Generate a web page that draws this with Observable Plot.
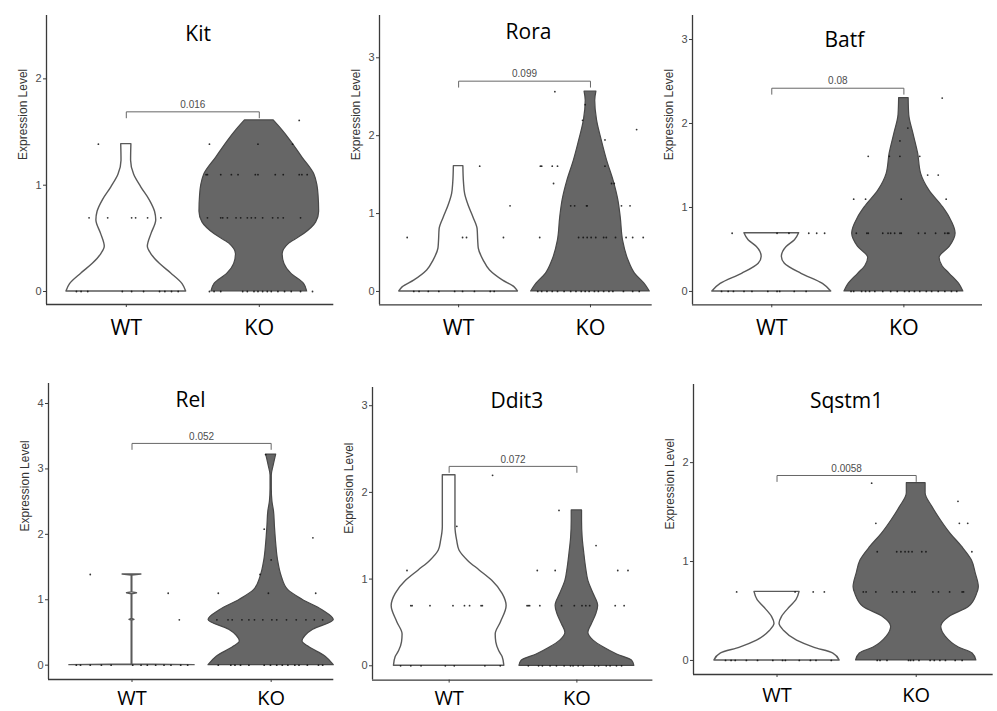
<!DOCTYPE html>
<html><head><meta charset="utf-8">
<script src="https://cdn.jsdelivr.net/npm/d3@7"></script>
<script src="https://cdn.jsdelivr.net/npm/@observablehq/plot@0.6"></script>
<style>
body{margin:0;background:#fff;}
#wrap{position:relative;width:997px;height:711px;overflow:hidden;background:#fff;}
#wrap svg{position:absolute;}
</style></head><body><div id="wrap"></div>
<script>
// ---------- data ----------
const genes = ["Kit", "Rora", "Batf", "Rel", "Ddit3", "Sqstm1"];
const groups = ["WT", "KO"];
const pValues = ["0.016", "0.099", "0.08", "0.052", "0.072", "0.0058"];
const bracketLevels = [1.69, 2.7, 2.42, 3.39, 2.3, 1.87];
const yTickValues = [[0,1,2], [0,1,2,3], [0,1,2,3], [0,1,2,3,4], [0,1,2,3], [0,1,2]];

// violin outlines: [expression level, relative density (width)]
const kitWT = [[0,1.0],[0.07,0.94],[0.17,0.75],[0.26,0.56],[0.35,0.42],[0.42,0.36],[0.54,0.42],[0.67,0.5],[0.75,0.48],[0.86,0.39],[0.98,0.25],[1.1,0.13],[1.23,0.08],[1.386,0.085]];
const kitKO = [[0,0.8],[0.07,0.75],[0.17,0.53],[0.26,0.42],[0.35,0.39],[0.45,0.5],[0.54,0.75],[0.65,0.95],[0.75,1.0],[0.9,0.99],[1.0,0.97],[1.1,0.92],[1.26,0.72],[1.42,0.52],[1.52,0.38],[1.609,0.24]];
const roraWT = [[0,1.0],[0.056,0.94],[0.14,0.75],[0.27,0.53],[0.4,0.42],[0.55,0.34],[0.65,0.33],[0.8,0.32],[0.95,0.25],[1.1,0.17],[1.25,0.11],[1.4,0.09],[1.609,0.08]];
const roraKO = [[0,1.0],[0.1,0.91],[0.23,0.75],[0.4,0.64],[0.65,0.55],[0.95,0.51],[1.17,0.47],[1.42,0.39],[1.68,0.28],[1.94,0.19],[2.2,0.11],[2.45,0.08],[2.565,0.1]];
const batfWT = [[0,1.0],[0.09,0.86],[0.21,0.5],[0.33,0.22],[0.41,0.17],[0.53,0.25],[0.61,0.39],[0.693,0.46]];
const batfKO = [[0,1.0],[0.09,0.93],[0.21,0.77],[0.3,0.65],[0.4,0.6],[0.53,0.77],[0.69,0.87],[0.88,0.77],[1.0,0.66],[1.2,0.43],[1.4,0.29],[1.64,0.24],[1.88,0.16],[2.1,0.09],[2.303,0.08]];
const relWT = [[0,1.0],[0.01,0.005],[0.68,0.005],[0.693,0.04],[0.706,0.005],[1.085,0.005],[1.099,0.08],[1.113,0.005],[1.37,0.005],[1.386,0.15]];
const relKO = [[0,1.0],[0.13,0.87],[0.28,0.6],[0.36,0.5],[0.45,0.55],[0.54,0.67],[0.69,1.0],[0.84,0.82],[1.0,0.5],[1.15,0.27],[1.35,0.17],[1.6,0.11],[1.86,0.08],[2.12,0.06],[2.35,0.045],[2.5,0.02],[2.7,0.01],[2.9,0.01],[3.05,0.04],[3.219,0.08]];
const ddit3WT = [[0,0.96],[0.1,0.93],[0.17,0.87],[0.27,0.82],[0.36,0.81],[0.5,0.9],[0.69,1.0],[0.83,0.93],[0.98,0.75],[1.1,0.53],[1.21,0.33],[1.33,0.18],[1.44,0.14],[1.6,0.11],[2.197,0.11]];
const ddit3KO = [[0,1.0],[0.06,0.96],[0.13,0.7],[0.21,0.47],[0.29,0.29],[0.38,0.2],[0.48,0.26],[0.6,0.34],[0.69,0.37],[0.83,0.29],[0.98,0.2],[1.13,0.16],[1.29,0.13],[1.48,0.1],[1.67,0.09],[1.792,0.09]];
const sqstm1WT = [[0,1.0],[0.07,0.9],[0.13,0.59],[0.2,0.32],[0.3,0.11],[0.37,0.04],[0.44,0.08],[0.54,0.21],[0.61,0.31],[0.693,0.36]];
const sqstm1KO = [[0,0.96],[0.07,0.9],[0.13,0.68],[0.24,0.47],[0.34,0.4],[0.44,0.53],[0.54,0.84],[0.67,0.97],[0.74,1.0],[0.88,0.95],[1.01,0.89],[1.15,0.73],[1.28,0.55],[1.42,0.39],[1.55,0.26],[1.69,0.15],[1.792,0.15]];

// cells: [expression level, [jitter offsets within group]]
const kitWTPts = [[1.386,[-0.21]],[0.693,[-0.28,-0.14,0.04,0.07,0.16,0.26]],[0,[-0.375,-0.34,-0.29,-0.03,0.04,0.13,0.25,0.29,0.34,0.39]]];
const kitKOPts = [[1.609,[0.3]],[1.386,[-0.375,-0.01,0.25]],[1.099,[-0.4,-0.39,-0.29,-0.21,-0.16,-0.03,-0.01,0.12,0.18,0.3,0.32,0.36]],[0.693,[-0.39,-0.29,-0.275,-0.24,-0.175,-0.14,-0.09,-0.06,-0.03,0.025,0.1,0.14,0.18,0.31]],[0,[-0.375,-0.34,-0.29,-0.125,-0.09,-0.04,-0.01,0.025,0.06,0.09,0.14,0.19,0.24,0.31,0.4]]];
const roraWTPts = [[1.609,[0.16]],[1.099,[0.39]],[0.693,[-0.39,0.03,0.06,0.34]],[0,[-0.34,-0.3,-0.23,-0.15,-0.03,0.03,0.12,0.24,0.27]]];
const roraKOPts = [[2.565,[-0.27]],[2.398,[-0.04]],[2.197,[-0.06]],[2.079,[0.35]],[1.946,[0.11]],[1.609,[-0.38,-0.37,-0.29,-0.25,0.11]],[1.386,[-0.28,0.16,0.18]],[1.099,[-0.15,-0.12,-0.03,-0.025,0.235,0.3]],[0.693,[-0.385,-0.09,-0.055,-0.025,0.005,0.04,0.1,0.12,0.19,0.27,0.32,0.4]],[0,[-0.4,-0.37,-0.33,-0.29,-0.25,-0.2,-0.15,-0.11,-0.07,-0.04,-0.01,0.03,0.06,0.1,0.14,0.17,0.25,0.32,0.37]]];
const batfWTPts = [[0.693,[-0.3,0.04,0.13,0.28,0.34,0.4]],[0,[-0.38,-0.33,-0.29,-0.21,-0.15,-0.03,0.04,0.06,0.17,0.26]]];
const batfKOPts = [[2.303,[0.29]],[1.946,[0.03]],[1.792,[-0.03]],[1.609,[-0.27,-0.11,-0.03,0.12]],[1.386,[0.18,0.26]],[1.099,[-0.38,-0.29,-0.02,0.32]],[0.693,[-0.36,-0.28,-0.27,-0.16,-0.12,-0.1,-0.07,-0.03,-0.02,0.11,0.16,0.24,0.31,0.33,0.34]],[0,[-0.4,-0.38,-0.32,-0.29,-0.26,-0.22,-0.16,-0.1,-0.05,0.005,0.04,0.08,0.12,0.17,0.21,0.26,0.31,0.36,0.4]]];
const relWTPts = [[1.386,[-0.3]],[1.099,[0.26]],[0.693,[0.34]],[0,[-0.4,-0.37,-0.3,-0.22,-0.15,0.005,0.065,0.11,0.17,0.23,0.28,0.35,0.4]]];
const relKOPts = [[3.219,[-0.04]],[2.079,[-0.05]],[1.946,[0.3]],[1.609,[0.0]],[1.386,[-0.08]],[1.099,[-0.38,-0.02,0.32]],[0.693,[-0.39,-0.31,-0.28,-0.21,-0.16,-0.12,-0.06,0.005,0.04,0.11,0.18,0.25,0.31,0.37]],[0,[-0.38,-0.29,-0.26,-0.22,-0.16,-0.05,-0.005,0.04,0.08,0.12,0.17,0.2,0.26,0.34,0.37]]];
const ddit3WTPts = [[2.197,[0.34]],[1.609,[0.06]],[1.099,[-0.33]],[0.693,[-0.3,-0.29,-0.15,0.03,0.12,0.16,0.25,0.26]],[0,[-0.38,-0.3,-0.22,-0.03,0.04,0.28,0.4]]];
const ddit3KOPts = [[1.792,[-0.14]],[1.386,[0.15]],[1.099,[-0.31,-0.17,0.32,0.4]],[0.693,[-0.39,-0.38,-0.37,-0.29,-0.12,-0.02,0.04,0.07,0.1,0.3,0.37]],[0,[-0.38,-0.3,-0.27,-0.21,-0.16,-0.1,-0.05,-0.03,0.01,0.05,0.14,0.17,0.23,0.26,0.31,0.35]]];
const sqstm1WTPts = [[0.693,[-0.29,0.13,0.26,0.34]],[0,[-0.37,-0.33,-0.3,-0.22,-0.14,-0.03,0.04,0.06,0.16,0.24,0.28,0.39]]];
const sqstm1KOPts = [[1.792,[-0.32]],[1.609,[0.3]],[1.386,[-0.29,0.31,0.37]],[1.099,[-0.28,-0.14,-0.11,-0.08,-0.055,-0.03,0.04,0.07,0.4]],[0.693,[-0.38,-0.36,-0.29,-0.17,-0.14,-0.09,-0.03,-0.01,0.12,0.16,0.24,0.33,0.34]],[0,[-0.28,-0.26,-0.21,-0.055,-0.04,-0.02,0.02,0.1,0.13,0.17,0.21,0.28,0.33]]];

const wtProfiles = [kitWT, roraWT, batfWT, relWT, ddit3WT, sqstm1WT];
const koProfiles = [kitKO, roraKO, batfKO, relKO, ddit3KO, sqstm1KO];
const wtPoints = [kitWTPts, roraWTPts, batfWTPts, relWTPts, ddit3WTPts, sqstm1WTPts];
const koPoints = [kitKOPts, roraKOPts, batfKOPts, relKOPts, ddit3KOPts, sqstm1KOPts];

// ---------- layout (pixels / styling) ----------
const layout = [
  {L:45.7, T:15,    R:333,   B:304,   y:[-0.122,2.596], xMax:2.56,  titleX:1.54, titleDy:11, pad:12, fs:21.5},
  {L:379,  T:15,    R:651.7, B:304.3, y:[-0.171,3.543], xMax:2.468, titleX:1.53, titleDy:9,  pad:12, fs:21.5},
  {L:691.7,T:15,    R:981.7, B:304.3, y:[-0.159,3.286], xMax:2.595, titleX:1.55, titleDy:17, pad:12, fs:21.5},
  {L:47.7, T:383.3, R:333,   B:679.3, y:[-0.219,4.306], xMax:2.45,  titleX:1.42, titleDy:9,  pad:8,  fs:20},
  {L:372.3,T:386.7, R:652.7, B:679.3, y:[-0.165,3.21],  xMax:2.595, titleX:1.53, titleDy:6,  pad:8,  fs:20},
  {L:693.3,T:384,   R:993,   B:674,   y:[-0.142,2.79],  xMax:2.553, titleX:1.5,  titleDy:9,  pad:10, fs:20}
];
const HALF = 0.45;
const KO_FILL = "#666666";
const AXIS = "#3a3a3a";
const SANS = "'Liberation Sans', Arial, Helvetica, sans-serif";
const TITLE_FONT = "'Open Sans', 'Noto Sans', sans-serif";

const wrap = document.getElementById("wrap");

function flattenPts(list, center) {
  const out = [];
  for (const [lvl, offs] of list) for (const o of offs) out.push({x: center + o, y: lvl});
  return out;
}

genes.forEach((gene, i) => {
  const lay = layout[i];
  const ml = 46, mr = 3, mt = 1, mb = 48;
  const fw = lay.R - lay.L, fh = lay.B - lay.T;
  const pxPerUnit = fh / (lay.y[1] - lay.y[0]);
  const tip = 6 / pxPerUnit;
  const lvl = bracketLevels[i];
  const curveWT = gene === "Rel" ? "linear" : "monotone-y";
  const pts = [...flattenPts(wtPoints[i], 1), ...flattenPts(koPoints[i], 2)];
  const bracket = [[1, lvl - tip], [1, lvl], [2, lvl], [2, lvl - tip]];

  const svg = Plot.plot({
    width: ml + fw + mr,
    height: mt + fh + mb,
    marginLeft: ml, marginRight: mr, marginTop: mt, marginBottom: mb,
    x: {domain: [0.4, lay.xMax], axis: null},
    y: {domain: lay.y, axis: null},
    style: {fontFamily: SANS, background: "transparent", overflow: "visible", color: AXIS},
    marks: [
      Plot.areaX(wtProfiles[i], {y: d => d[0], x1: d => 1 - d[1] * HALF, x2: d => 1 + d[1] * HALF,
        fill: "white", stroke: "#5a5a5a", strokeWidth: 1.4, curve: curveWT}),
      Plot.areaX(koProfiles[i], {y: d => d[0], x1: d => 2 - d[1] * HALF, x2: d => 2 + d[1] * HALF,
        fill: KO_FILL, stroke: "#484848", strokeWidth: 1.2, curve: "monotone-y"}),
      Plot.dot(pts, {x: "x", y: "y", r: 0.9, fill: "#111", fillOpacity: 0.85}),
      Plot.line(bracket, {x: d => d[0], y: d => d[1], stroke: "#666", strokeWidth: 1}),
      Plot.text([{x: 1.5, y: lvl, t: pValues[i]}], {x: "x", y: "y", text: "t", dy: -7, fontSize: 10, fill: "#4d4d4d"}),
      Plot.text([{x: lay.titleX, t: gene}], {x: "x", text: "t", frameAnchor: "top", dy: lay.titleDy,
        fontSize: 21, fontFamily: TITLE_FONT, fill: "#000"}),
      Plot.text(["Expression Level"], {frameAnchor: "left", rotate: -90, dx: -23, fontSize: 12, fill: "#333"}),
      Plot.axisY({ticks: yTickValues[i], tickFormat: d3.format("d"), tickSize: 3, tickPadding: 2,
        fontSize: 11, fill: "#4d4d4d", stroke: AXIS, label: null}),
      Plot.axisX({ticks: [1, 2], tickFormat: d => groups[d - 1], tickSize: 3, tickPadding: lay.pad,
        fontSize: lay.fs, fontFamily: TITLE_FONT, fill: "#000", stroke: AXIS, label: null}),
      Plot.ruleX([0.4], {stroke: AXIS, strokeWidth: 1.3}),
      Plot.ruleY([lay.y[0]], {stroke: AXIS, strokeWidth: 1.3})
    ]
  });
  svg.style.left = (lay.L - ml) + "px";
  svg.style.top = (lay.T - mt) + "px";
  wrap.appendChild(svg);
});
</script></body></html>
